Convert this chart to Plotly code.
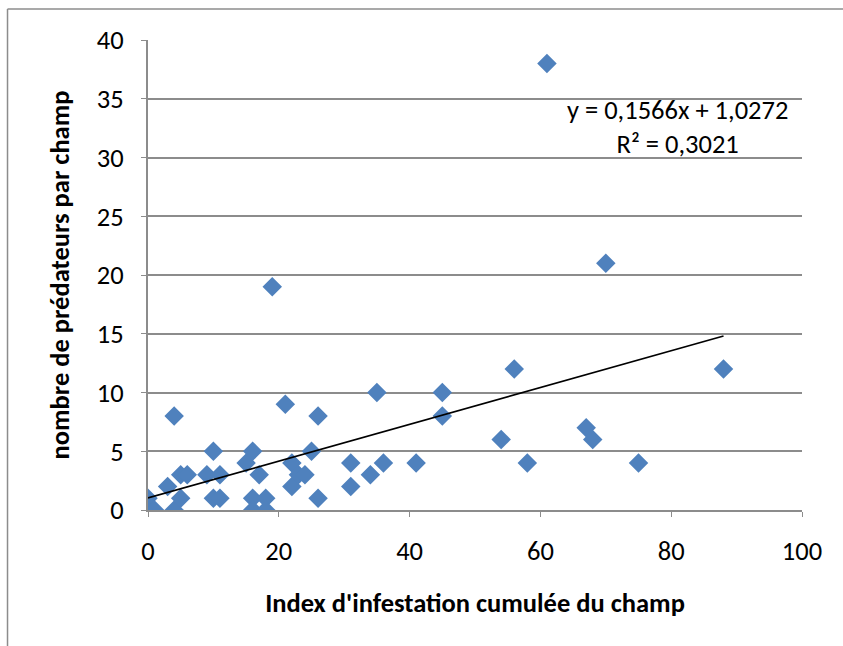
import plotly.graph_objects as go

# Data
infestation = [0, 0, 1, 3, 4, 4, 5, 5, 6, 9, 10, 10, 11, 11, 15, 16, 16, 16, 17, 18, 18,
               19, 21, 22, 22, 23, 24, 25, 26, 26, 31, 31, 34, 35, 36, 41, 45, 45,
               54, 56, 58, 61, 67, 68, 70, 75, 88]
predateurs = [1, 0, 0, 2, 8, 0, 1, 3, 3, 3, 5, 1, 3, 1, 4, 5, 1, 0, 3, 1, 0,
              19, 9, 4, 2, 3, 3, 5, 8, 1, 4, 2, 3, 10, 4, 4, 10, 8,
              6, 12, 4, 38, 7, 6, 21, 4, 12]

slope = 0.1566
intercept = 1.0272
r2 = 0.3021

x_ticks = [0, 20, 40, 60, 80, 100]
y_ticks = [0, 5, 10, 15, 20, 25, 30, 35, 40]

FONT = "Carlito, Calibri, Lato, sans-serif"
GRID = "#8c8c8c"
FS = 26.5

trend_x = [0, max(infestation)]
trend_y = [slope * v + intercept for v in trend_x]

fig = go.Figure()
fig.add_trace(go.Scatter(
    x=infestation, y=predateurs, mode="markers",
    marker=dict(symbol="diamond", size=15, color="#4F81BD",
                line=dict(width=0)),
    showlegend=False, hoverinfo="x+y"))
fig.add_trace(go.Scatter(
    x=trend_x, y=trend_y, mode="lines",
    line=dict(color="black", width=1.6),
    showlegend=False, hoverinfo="skip"))

eq_text = ("y = " + f"{slope:.4f}".replace(".", ",") + "x + " +
           f"{intercept:.4f}".replace(".", ",") + "<br>R² = " +
           f"{r2:.4f}".replace(".", ","))
fig.add_annotation(x=80.9, y=32.6, xref="x", yref="y", text=eq_text,
                   showarrow=False, align="center",
                   font=dict(family=FONT, size=FS, color="black"))

fig.update_xaxes(range=[0, 100], tickvals=x_ticks, showgrid=False,
                 zeroline=False, showline=True, linecolor=GRID, linewidth=2,
                 ticks="outside", ticklen=5, tickcolor=GRID, tickwidth=1,
                 ticklabelstandoff=11,
                 tickfont=dict(family=FONT, size=FS, color="black"),
                 title=dict(text="<b>Index d'infestation cumulée du champ</b>",
                            font=dict(family=FONT, size=FS, color="black"),
                            standoff=28),
                 fixedrange=True)
fig.update_yaxes(range=[0, 40], tickvals=y_ticks, showgrid=True,
                 gridcolor=GRID, gridwidth=1.5, zeroline=False,
                 showline=True, linecolor=GRID, linewidth=2,
                 ticks="outside", ticklen=5, tickcolor=GRID, tickwidth=1,
                 ticklabelstandoff=12,
                 tickfont=dict(family=FONT, size=FS, color="black"),
                 title=dict(text="<b>nombre de prédateurs par champ</b>",
                            font=dict(family=FONT, size=FS, color="black"),
                            standoff=20),
                 fixedrange=True)

# outer chart-area border (left and top edges visible)
fig.add_shape(type="line", xref="paper", yref="paper",
              x0=-0.2148, x1=1.2, y0=1.066, y1=1.066,
              line=dict(color="#8c8c8c", width=1.5))
fig.add_shape(type="line", xref="paper", yref="paper",
              x0=-0.2148, x1=-0.2148, y0=1.066, y1=-0.3,
              line=dict(color="#8c8c8c", width=1.5))

fig.update_layout(width=843, height=646,
                  margin=dict(l=148, r=41, t=40, b=136),
                  plot_bgcolor="white", paper_bgcolor="white",
                  font=dict(family=FONT))

fig.write_html("out.html",
               config={"displayModeBar": False},
               post_script="document.body.style.margin='0';"
                           "document.body.style.overflow='hidden';")
